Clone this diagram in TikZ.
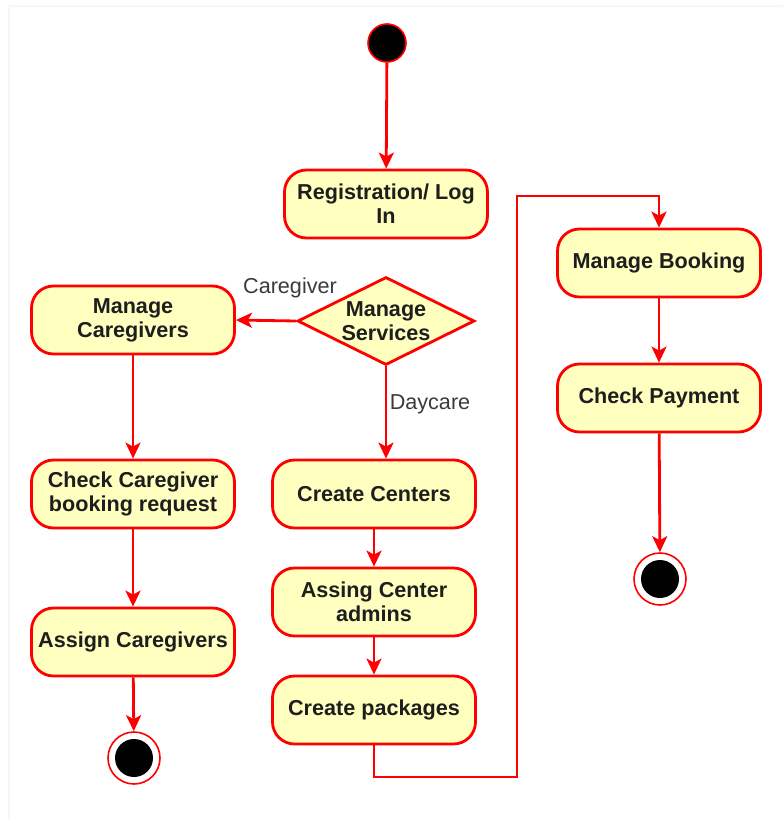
\documentclass[tikz,border=0pt]{standalone}
\usepackage{fontspec}
\setmainfont{Liberation Sans}
\usetikzlibrary{shapes.geometric,arrows.meta,calc}
\definecolor{lnred}{HTML}{FF0000}
\definecolor{boxfill}{HTML}{FFFFC0}
\definecolor{txtc}{HTML}{1E1E1E}
\definecolor{lblc}{HTML}{3A3A3A}
\begin{document}
\begin{tikzpicture}[x=0.5pt,y=-0.5pt,
  act/.style={draw=lnred, line width=1.4pt, fill=boxfill, rounded corners=11pt,
    minimum width=101.5pt, minimum height=34pt, inner sep=0pt, align=center,
    text=txtc, font=\fontsize{10.8}{12}\selectfont\bfseries},
  dec/.style={draw=lnred, line width=1.4pt, fill=boxfill, diamond,
    minimum width=88.5pt, minimum height=44pt, inner sep=0pt},
  txt/.style={align=center, text=txtc, font=\fontsize{10.8}{12}\selectfont\bfseries},
  lbl/.style={text=lblc, font=\fontsize{10.8}{12}\selectfont},
  startnode/.style={circle, draw=lnred, line width=0.8pt, fill=black, minimum size=19pt, inner sep=0pt},
  endouter/.style={circle, draw=lnred, line width=0.8pt, fill=white, minimum size=26pt, inner sep=0pt},
  endinner/.style={circle, fill=black, minimum size=19pt, inner sep=0pt},
  flow/.style={draw=lnred, line width=1.4pt, -{Stealth[length=8pt,width=7.5pt,inset=2pt]}}
]
\useasboundingbox (0,0) rectangle (783,819);
\draw[draw=black!3, line width=0.6pt] (9,819) -- (9,6) -- (783,6);

\node[startnode] (start) at (387,43) {};
\node[act] (reg) at (386,204) {Registration/ Log\\In};
\node[dec] (ms) at (386,321) {};
\node[txt] (mstxt) at (386,321) {Manage\\Services};
\node[act] (mc) at (133,320) {Manage\\Caregivers};
\node[act] (ccb) at (133,494) {Check Caregiver\\booking request};
\node[act] (ac) at (133,642) {Assign Caregivers};
\node[endouter] (e1) at (134,758) {};
\node[endinner] (e1i) at (134,758) {};
\node[act] (cc) at (374,494) {Create Centers};
\node[act] (aca) at (374,602) {Assing Center\\admins};
\node[act] (cp) at (374,710) {Create packages};
\node[act] (mb) at (659,263) {Manage Booking};
\node[act] (chp) at (659,398) {Check Payment};
\node[endouter] (e2) at (660,579) {};
\node[endinner] (e2i) at (660,579) {};

\node[lbl] (lcare) at (290,288) {Caregiver};
\node[lbl] (lday) at (430,404) {Daycare};

\coordinate (b1) at (374,777);
\coordinate (b2) at (517,777);
\coordinate (b3) at (517,196);
\coordinate (b4) at (659,196);

\draw[flow] (start) -- (reg);
\draw[flow] (ms.west) -- (mc.east);
\draw[flow] (ms.south) -- (ms.south |- cc.north);
\draw[flow] (mc) -- (ccb);
\draw[flow] (ccb) -- (ac);
\draw[flow] (ac) -- (e1);
\draw[flow] (cc) -- (aca);
\draw[flow] (aca) -- (cp);
\draw[flow] (cp.south) -- (b1) -- (b2) -- (b3) -- (b4) -- (mb.north);
\draw[flow] (mb) -- (chp);
\draw[flow] (chp) -- (e2);
\end{tikzpicture}
\end{document}
